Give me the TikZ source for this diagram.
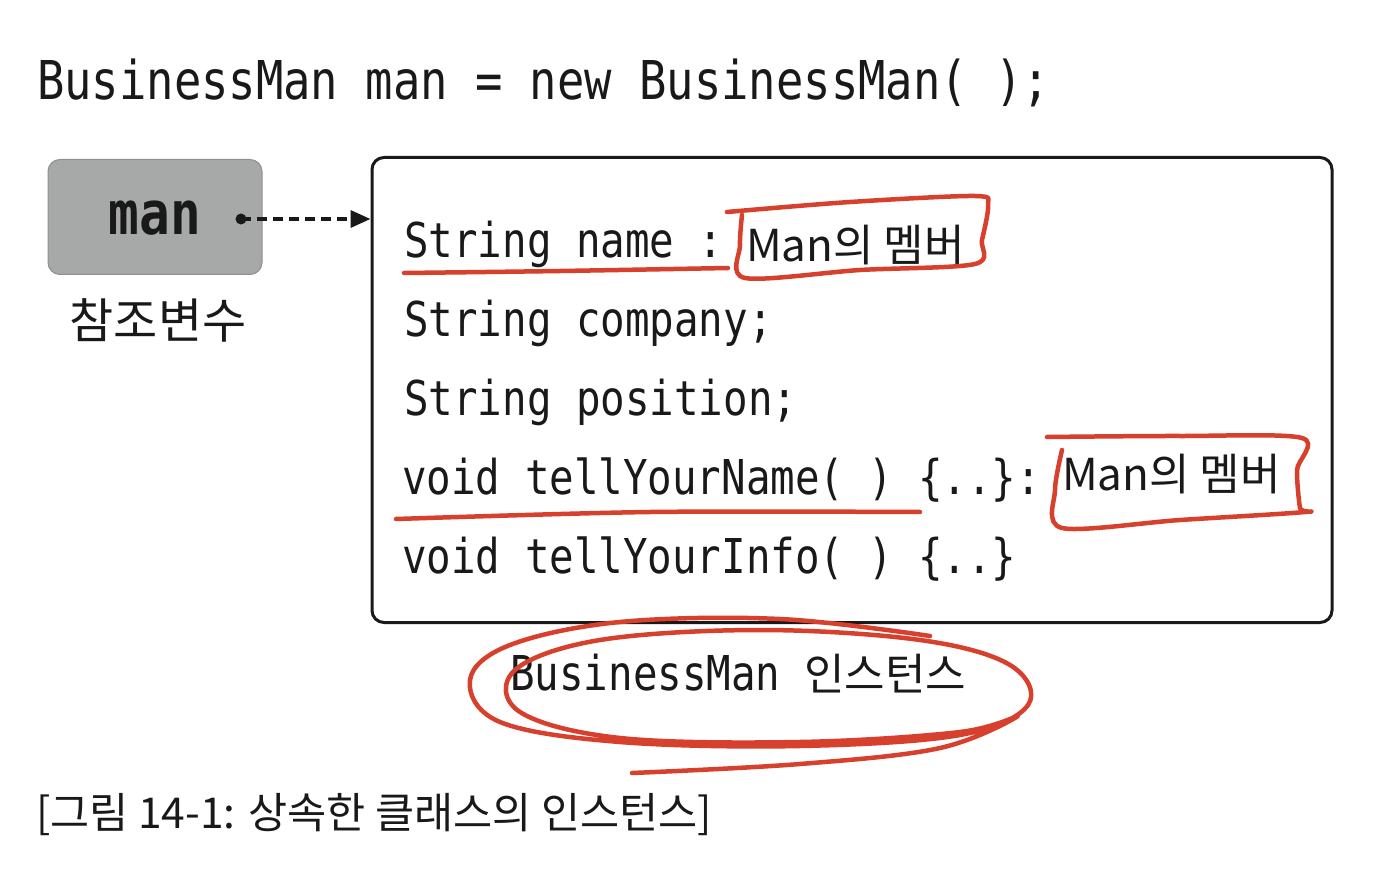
\documentclass[tikz,border=0pt]{standalone}
\usepackage{fontspec}
\newfontfamily\codefont[FakeStretch=0.85]{DejaVu Sans Mono}
\newfontfamily\codebold[FakeStretch=0.85]{DejaVu Sans Mono Bold}
\newfontfamily\kr{Noto Sans CJK KR}
\usetikzlibrary{arrows.meta}
\definecolor{pen}{RGB}{214,64,44}
\definecolor{boxgray}{RGB}{166,169,167}
\definecolor{ink}{RGB}{25,25,25}
\tikzset{
  code/.style={anchor=base west, inner sep=0pt, text=ink, font=\codefont\fontsize{48}{50}\selectfont},
  redpen/.style={draw=pen, line width=4.5pt, line cap=round, line join=round},
  hand/.style={anchor=base west, inner sep=0pt, text=ink, font=\kr\fontsize{44}{48}\selectfont},
  refarrow/.style={draw=ink, line width=3.5pt, dash pattern=on 10pt off 6pt, -{Triangle[length=20pt,width=17pt]}},
}
\begin{document}
\begin{tikzpicture}[x=1pt,y=-1pt]
\useasboundingbox (0,0) rectangle (1379,882);
\fill[white] (0,0) rectangle (1379,882);

% title
\node[code, font=\codefont\fontsize{53.5}{56}\selectfont] (title) at (37,100) {BusinessMan man = new BusinessMan( );};

% reference variable box
\node[draw=boxgray!85!black, line width=1pt, fill=boxgray, rounded corners=12pt, minimum width=214pt, minimum height=115pt, inner sep=0pt] (manbox) at (155,217) {};
\node[anchor=base, inner sep=0pt, text=ink, font=\codebold\fontsize{60}{62}\selectfont] (mantext) at (155,235) {man};
\node[inner sep=0pt, text=ink, font=\kr\fontsize{48}{52}\selectfont] (reflabel) at (158,320) {참조변수};

% instance box
\node[draw=ink, line width=3pt, rounded corners=12pt, minimum width=960pt, minimum height=465pt, inner sep=0pt] (inst) at (852,390) {};

\coordinate (dot) at (241,219);
\fill[ink] (dot) circle (5.5pt);
\draw[refarrow] (dot) -- (inst.west |- dot);

% code lines
\node[code] (l1) at (404,258) {String name :};
\node[code] (l2) at (404,337) {String company;};
\node[code] (l3) at (404,416) {String position;};
\node[code] (l4) at (402,494) {void tellYourName( ) \{..\}:};
\node[code] (l5) at (402,573) {void tellYourInfo( ) \{..\}};

% label below
\node[anchor=base west, inner sep=0pt, text=ink] (instlabel) at (510,690) {\codefont\fontsize{48}{50}\selectfont BusinessMan\hspace{24pt}\kr\fontsize{44}{48}\selectfont 인스턴스};

% caption
\node[anchor=base west, inner sep=0pt, text=ink, font=\kr\fontsize{42.5}{46}\selectfont] (caption) at (36,828) {[그림 14-1: 상속한 클래스의 인스턴스]};

% handwritten annotations
\node[hand] (note1) at (746,262) {Man의 멤버};
\node[hand] (note2) at (1062,490) {Man의 멤버};

\draw[redpen] plot[smooth, tension=0.5] coordinates {(404,273) (560,271) (728,268)};
\draw[redpen] plot[smooth, tension=0.5] coordinates {(727,212) (850,202) (975,196) (988,205) (982,240) (975,264) (860,270) (745,278) (740,245) (742,215)};

\draw[redpen] plot[smooth, tension=0.5] coordinates {(396,519) (650,512) (920,512)};
\draw[redpen] plot[smooth, tension=0.5] coordinates {(1047,437) (1180,436) (1302,438) (1297,470) (1300,508) (1305,512) (1180,520) (1062,528) (1055,490) (1062,450)};

\draw[redpen] plot[smooth, tension=0.6] coordinates {(930,636) (780,619) (620,622) (510,645) (470,680) (500,722) (620,742) (800,746) (960,735) (1028,705) (1010,665) (920,640) (760,630) (600,640) (515,670) (520,712) (620,738) (800,742) (960,732) (1018,716) (940,748) (800,764) (632,773)};
\end{tikzpicture}
\end{document}
